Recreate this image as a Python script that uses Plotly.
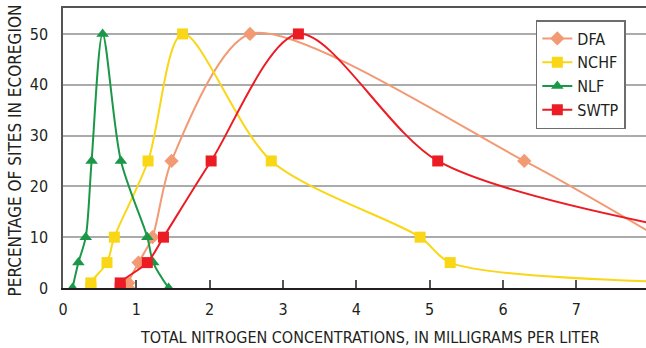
import plotly.graph_objects as go

# Total nitrogen concentration (mg/L) vs percentage of sites, per ecoregion.
# Tail values past x = 7.95 only carry the curve off the right edge.
dfa_x = [0.89, 0.89, 1.03, 1.22, 1.48, 2.55, 6.29, 8.2]
dfa_y = [0, 1, 5, 10, 25, 50, 25, 9.3]

nchf_x = [0.38, 0.38, 0.60, 0.70, 1.16, 1.63, 2.84, 4.87, 5.28, 8.2]
nchf_y = [0, 1, 5, 10, 25, 50, 25, 10, 5, 1.2]

nlf_x = [0.13, 0.21, 0.31, 0.39, 0.54, 0.79, 1.15, 1.23, 1.44]
nlf_y = [0, 5, 10, 25, 50, 25, 10, 5, 0]

swtp_x = [0.78, 0.78, 1.15, 1.37, 2.02, 3.21, 5.11, 8.2]
swtp_y = [0, 1, 5, 10, 25, 50, 25, 12.2]

x_ticks = [0, 1, 2, 3, 4, 5, 6, 7]
y_ticks = [0, 10, 20, 30, 40, 50]

FONT = "DejaVu Sans Condensed, Liberation Sans Narrow, Arial Narrow, sans-serif"

series = [
    ("DFA", dfa_x, dfa_y, "#F29A74", "diamond", 11, 0.75),
    ("NCHF", nchf_x, nchf_y, "#F9D616", "square", 11, 0.85),
    ("NLF", nlf_x, nlf_y, "#1A9848", "triangle-up", 11, 0.85),
    ("SWTP", swtp_x, swtp_y, "#EC1C24", "square", 11, 0.85),
]

fig = go.Figure()
for name, xs, ys, color, symbol, size, smooth in series:
    fig.add_trace(go.Scatter(
        x=xs, y=ys, name=name, mode="lines+markers",
        line=dict(color=color, width=2, shape="spline", smoothing=smooth),
        marker=dict(color=color, symbol=symbol, size=size),
        cliponaxis=True,
    ))

fig.update_layout(
    width=646, height=348,
    margin=dict(l=63, r=0, t=8, b=60),
    paper_bgcolor="white", plot_bgcolor="white",
    font=dict(family=FONT, size=15, color="#231F20"),
    showlegend=True,
    legend=dict(
        x=0.811, y=0.957, xanchor="left", yanchor="top",
        bgcolor="white", bordercolor="#6d6d6d", borderwidth=1.5,
        font=dict(family=FONT, size=16, color="#231F20"),
        itemwidth=30, tracegroupgap=0,
    ),
    xaxis=dict(
        range=[0, 7.95], tickvals=x_ticks, ticktext=[str(v) for v in x_ticks],
        showgrid=False, zeroline=False,
        showline=True, linecolor="#231F20", linewidth=2, mirror=False,
        ticks="inside", ticklen=8, tickwidth=1.5, tickcolor="#555555",
        ticklabelstandoff=6, tickfont=dict(size=16),
    ),
    xaxis2=dict(overlaying="x", side="top", range=[0, 7.95], showticklabels=False,
                showline=True, linecolor="#555555", linewidth=1.5, showgrid=False,
                zeroline=False, ticks=""),
    yaxis=dict(
        range=[0, 55.1], tickvals=y_ticks, ticktext=[str(v) for v in y_ticks],
        showgrid=True, gridcolor="#ABABAB", gridwidth=1.5, zeroline=False,
        showline=True, linecolor="#555555", linewidth=1.5,
        ticks="", ticklabelstandoff=10, tickfont=dict(size=16),
    ),
    annotations=[
        dict(text="TOTAL NITROGEN CONCENTRATIONS, IN MILLIGRAMS PER LITER",
             xref="paper", yref="paper", x=0.527, y=-0.175, xanchor="center",
             yanchor="middle", showarrow=False, font=dict(size=16)),
        dict(text="PERCENTAGE OF SITES IN ECOREGION", textangle=-90,
             xref="paper", yref="paper", x=-0.083, y=0.49, xanchor="center",
             yanchor="middle", showarrow=False, font=dict(size=17)),
    ],
)
# empty trace on the overlay axis so the top frame line is drawn
fig.add_trace(go.Scatter(x=[], y=[], xaxis="x2", showlegend=False))

fig.write_html("out.html")
